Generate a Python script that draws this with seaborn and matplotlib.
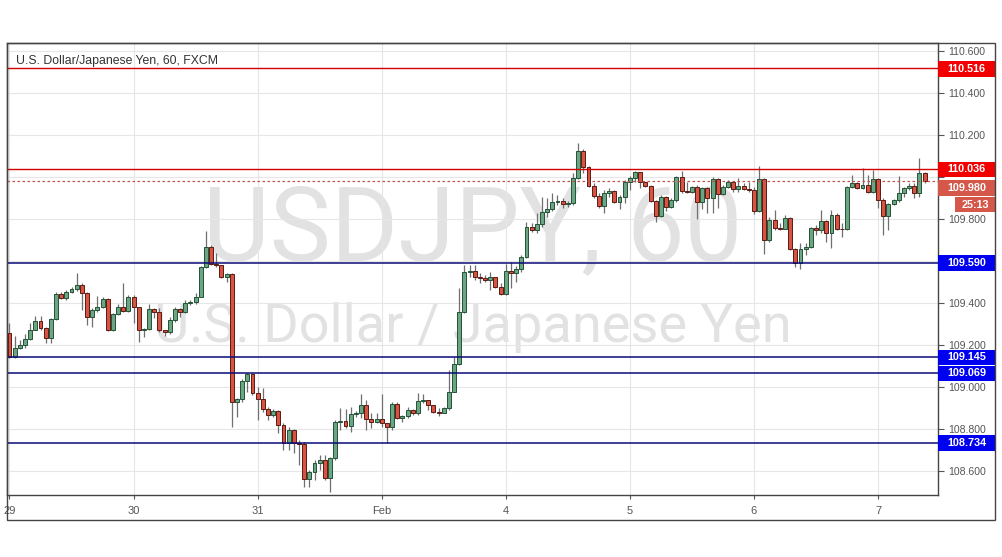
"""USD/JPY 60-minute candles with support / resistance levels, TradingView look."""

import matplotlib

matplotlib.use("Agg")
import matplotlib.pyplot as plt
import matplotlib.transforms as mtransforms
import numpy as np
import seaborn as sns
from matplotlib.patches import Rectangle

W, H = 1002, 557

# ---- data (hourly bars, Jan 29 00:00 -> Feb 7 09:00) ----
first_open = 109.258
closes = [
    109.143, 109.186, 109.201, 109.229, 109.272, 109.315, 109.281, 109.234, 109.324, 109.443,
    109.424, 109.453, 109.467, 109.486, 109.448, 109.334, 109.367, 109.381, 109.419, 109.272,
    109.348, 109.381, 109.362, 109.429, 109.381, 109.272, 109.277, 109.372, 109.357, 109.272,
    109.262, 109.319, 109.372, 109.357, 109.400, 109.405, 109.429, 109.571, 109.667, 109.586,
    109.581, 109.524, 109.538, 108.929, 108.944, 109.029, 109.063, 108.972, 108.944, 108.896,
    108.868, 108.887, 108.820, 108.735, 108.796, 108.735, 108.731, 108.563, 108.597, 108.639,
    108.654, 108.568, 108.663, 108.834, 108.839, 108.815, 108.872, 108.877, 108.915, 108.849,
    108.834, 108.849, 108.830, 108.811, 108.920, 108.853, 108.863, 108.891, 108.877, 108.934,
    108.939, 108.915, 108.882, 108.879, 108.901, 108.977, 109.110, 109.357, 109.548, 109.552,
    109.524, 109.519, 109.510, 109.524, 109.476, 109.443, 109.552, 109.543, 109.562, 109.619,
    109.762, 109.747, 109.776, 109.833, 109.847, 109.880, 109.884, 109.871, 109.876, 109.995,
    110.123, 110.047, 109.957, 109.909, 109.861, 109.923, 109.933, 109.880, 109.904, 109.976,
    109.995, 110.023, 109.976, 109.957, 109.885, 109.814, 109.904, 109.857, 109.890, 109.999,
    109.933, 109.928, 109.952, 109.880, 109.947, 109.900, 109.990, 109.919, 109.952, 109.976,
    109.942, 109.957, 109.942, 109.938, 109.838, 109.990, 109.700, 109.795, 109.757, 109.752,
    109.804, 109.657, 109.590, 109.657, 109.667, 109.757, 109.747, 109.790, 109.733, 109.819,
    109.752, 109.750, 109.952, 109.971, 109.947, 109.961, 109.928, 109.990, 109.890, 109.814,
    109.871, 109.890, 109.923, 109.947, 109.957, 109.923, 110.018, 109.980,
]
highs = [
    109.305, 109.243, 109.224, 109.253, 109.305, 109.338, 109.338, 109.286, 109.329, 109.453,
    109.453, 109.462, 109.476, 109.543, 109.495, 109.453, 109.376, 109.434, 109.429, 109.424,
    109.353, 109.396, 109.495, 109.438, 109.438, 109.381, 109.281, 109.396, 109.376, 109.376,
    109.272, 109.334, 109.381, 109.376, 109.415, 109.415, 109.448, 109.576, 109.743, 109.676,
    109.638, 109.581, 109.543, 109.543, 108.949, 109.039, 109.067, 109.067, 109.001, 108.996,
    108.906, 108.896, 108.891, 108.830, 108.811, 108.801, 108.749, 108.739, 108.606, 108.654,
    108.677, 108.677, 108.668, 108.844, 108.901, 108.896, 108.906, 108.887, 108.968, 108.939,
    108.877, 108.877, 108.968, 108.830, 108.929, 108.929, 108.868, 108.906, 108.896, 108.972,
    108.968, 108.939, 108.915, 108.901, 108.906, 109.082, 109.143, 109.472, 109.581, 109.581,
    109.581, 109.543, 109.533, 109.548, 109.514, 109.495, 109.586, 109.595, 109.576, 109.628,
    109.785, 109.781, 109.828, 109.904, 109.900, 109.923, 109.914, 109.900, 109.885, 110.018,
    110.161, 110.133, 110.052, 109.971, 109.923, 109.938, 109.947, 109.938, 109.914, 109.985,
    110.004, 110.028, 110.023, 109.976, 109.961, 109.890, 109.914, 109.909, 109.900, 110.004,
    110.028, 109.976, 109.957, 109.961, 109.952, 109.952, 109.999, 109.995, 109.961, 109.985,
    109.976, 109.995, 109.971, 109.976, 109.952, 110.052, 109.995, 109.809, 109.842, 109.781,
    109.819, 109.809, 109.662, 109.686, 109.686, 109.762, 109.771, 109.842, 109.795, 109.842,
    109.828, 109.781, 109.957, 110.009, 109.976, 110.042, 110.009, 110.033, 109.995, 109.900,
    109.876, 109.895, 110.004, 109.952, 109.971, 109.971, 110.090, 110.023,
]
lows = [
    109.139, 109.139, 109.182, 109.186, 109.224, 109.272, 109.272, 109.210, 109.210, 109.319,
    109.419, 109.415, 109.448, 109.457, 109.367, 109.296, 109.286, 109.357, 109.376, 109.267,
    109.267, 109.343, 109.357, 109.357, 109.305, 109.215, 109.239, 109.272, 109.329, 109.262,
    109.243, 109.253, 109.310, 109.334, 109.353, 109.391, 109.396, 109.429, 109.567, 109.581,
    109.571, 109.519, 109.500, 108.811, 108.858, 108.929, 108.977, 108.963, 108.844, 108.882,
    108.844, 108.858, 108.782, 108.701, 108.701, 108.687, 108.630, 108.525, 108.525, 108.559,
    108.606, 108.559, 108.502, 108.654, 108.796, 108.806, 108.787, 108.858, 108.853, 108.796,
    108.806, 108.830, 108.811, 108.735, 108.796, 108.849, 108.834, 108.853, 108.868, 108.868,
    108.925, 108.891, 108.877, 108.863, 108.877, 108.891, 108.977, 109.105, 109.353, 109.524,
    109.510, 109.495, 109.500, 109.462, 109.472, 109.438, 109.438, 109.472, 109.500, 109.548,
    109.614, 109.738, 109.733, 109.762, 109.809, 109.838, 109.866, 109.852, 109.857, 109.866,
    109.990, 110.018, 109.952, 109.900, 109.852, 109.828, 109.904, 109.876, 109.847, 109.876,
    109.938, 109.976, 109.947, 109.952, 109.880, 109.785, 109.809, 109.838, 109.852, 109.880,
    109.923, 109.923, 109.923, 109.800, 109.847, 109.828, 109.828, 109.852, 109.914, 109.947,
    109.928, 109.928, 109.938, 109.928, 109.823, 109.833, 109.633, 109.690, 109.747, 109.747,
    109.757, 109.652, 109.571, 109.562, 109.628, 109.662, 109.724, 109.733, 109.690, 109.662,
    109.747, 109.714, 109.747, 109.947, 109.942, 109.942, 109.923, 109.923, 109.852, 109.724,
    109.747, 109.866, 109.880, 109.904, 109.938, 109.900, 109.904, 109.971,
]

day_ticks = [0, 24, 48, 72, 96, 120, 144, 168]
day_labels = ["29", "30", "31", "Feb", "4", "5", "6", "7"]
price_ticks = [108.6, 108.8, 109.0, 109.2, 109.4, 109.6, 109.8, 110.0, 110.2, 110.4, 110.6]
hidden_ticks = [109.6, 110.0]  # covered by price tags on the scale

resistance_levels = [110.516, 110.036]
support_levels = [109.590, 109.145, 109.069, 108.734]
last_price = 109.980
countdown = "25:13"

UP, DOWN = "#6ba583", "#d75442"
UP_EDGE, DOWN_EDGE = "#225437", "#5b1a13"


def tag(fig, ax, y, text, color, x0=938, x1=995, h=15.5, size=7.8):
    """Coloured price tag on the right scale, x in pixels, y in price."""
    tf = mtransforms.blended_transform_factory(fig.transFigure, ax.transData)
    lo, hi = ax.get_ylim()
    half = (hi - lo) / 452 * h / 2
    ax.add_patch(Rectangle((x0 / W, y - half), (x1 - x0) / W, 2 * half, transform=tf,
                           facecolor=color, edgecolor="none", clip_on=False, zorder=8))
    ax.text((x0 + x1) / 2 / W, y, text, transform=tf, ha="center", va="center",
            color="white", fontsize=size, fontweight="bold", clip_on=False, zorder=9)


def main():
    sns.set_theme(style="white")
    plt.rcParams["font.family"] = ["Liberation Sans", "DejaVu Sans"]

    fig = plt.figure(figsize=(W / 100, H / 100), dpi=100)
    fig.patch.set_facecolor("white")
    ax = fig.add_axes([7 / W, 1 - 495 / H, 931 / W, 452 / H])
    ax.set_facecolor("white")

    idx = np.arange(len(closes))
    c = np.array(closes)
    o = np.array([first_open] + closes[:-1])  # FX bars open at the prior close
    up = c >= o

    ax.set_xlim(-0.48, 179.6)
    ax.set_ylim(108.487, 110.637)

    # watermark
    ax.text(0.5, 0.520, "USDJPY, 60", transform=ax.transAxes, ha="center", va="baseline",
            fontsize=74, family=["Roboto", "DejaVu Sans"], color="#e2e2e2", zorder=0.5)
    ax.text(0.5, 0.3385, "U.S. Dollar / Japanese Yen", transform=ax.transAxes,
            ha="center", va="baseline", fontsize=39, family=["Roboto", "DejaVu Sans"],
            color="#e2e2e2", zorder=0.5)

    # candles
    ax.vlines(idx, lows, highs, color="#6f6f6f", lw=0.9, zorder=2)
    body = np.abs(c - o)
    bottom = np.minimum(c, o)
    ax.bar(idx[up], body[up], bottom=bottom[up], width=0.76, color=UP,
           edgecolor=UP_EDGE, linewidth=0.7, zorder=3)
    ax.bar(idx[~up], body[~up], bottom=bottom[~up], width=0.76, color=DOWN,
           edgecolor=DOWN_EDGE, linewidth=0.7, zorder=3)

    # horizontal levels
    for lvl in resistance_levels:
        ax.axhline(lvl, color="#d40000", lw=1.0, zorder=4)
    for lvl in support_levels:
        ax.axhline(lvl, color="#0a0a78", lw=1.1, zorder=4)
    ax.axhline(last_price, color="#c0504d", lw=0.9, ls=(0, (2, 2)), zorder=4)

    # axes / grid
    ax.set_xticks(day_ticks)
    ax.set_xticklabels(day_labels)
    ax.set_yticks(price_ticks)
    ax.set_yticklabels(["" if p in hidden_ticks else f"{p:.3f}" for p in price_ticks])
    ax.grid(True, color="#e6e6e6", lw=0.8, zorder=0)
    ax.set_axisbelow(True)
    ax.yaxis.tick_right()
    ax.tick_params(axis="y", right=True, left=False, labelright=True, labelleft=False,
                   length=4, width=0.8, color="#555555", labelcolor="#555555",
                   labelsize=7.6, pad=3, direction="out")
    ax.tick_params(axis="x", bottom=True, length=3, width=0.8, color="#555555",
                   labelcolor="#555555", labelsize=8, pad=5, direction="out")
    for sp in ax.spines.values():
        sp.set_color("#444444")
        sp.set_linewidth(1.0)

    # price tags on the right scale
    tag(fig, ax, 110.513, "110.516", "#f20000")
    tag(fig, ax, 110.036, "110.036", "#f20000")
    tag(fig, ax, 109.947, "109.980", "#d4574a")
    tag(fig, ax, 109.868, countdown, "#d4574a", x0=955)
    tag(fig, ax, 109.590, "109.590", "#0000f0")
    tag(fig, ax, 109.142, "109.145", "#0000f0")
    tag(fig, ax, 109.065, "109.069", "#0000f0")
    tag(fig, ax, 108.734, "108.734", "#0000f0")

    fig.text(16 / W, 1 - 60.5 / H, "U.S. Dollar/Japanese Yen, 60, FXCM", ha="left",
             va="center", fontsize=8.8, color="#333333")

    # outer frame around chart + price scale + time scale
    fig.add_artist(Rectangle((7 / W, 1 - 520 / H), 988 / W, 477 / H,
                             transform=fig.transFigure, fill=False,
                             edgecolor="#444444", lw=1.0))

    fig.savefig("out.png", dpi=100, facecolor="white")
    plt.close(fig)


if __name__ == "__main__":
    main()
